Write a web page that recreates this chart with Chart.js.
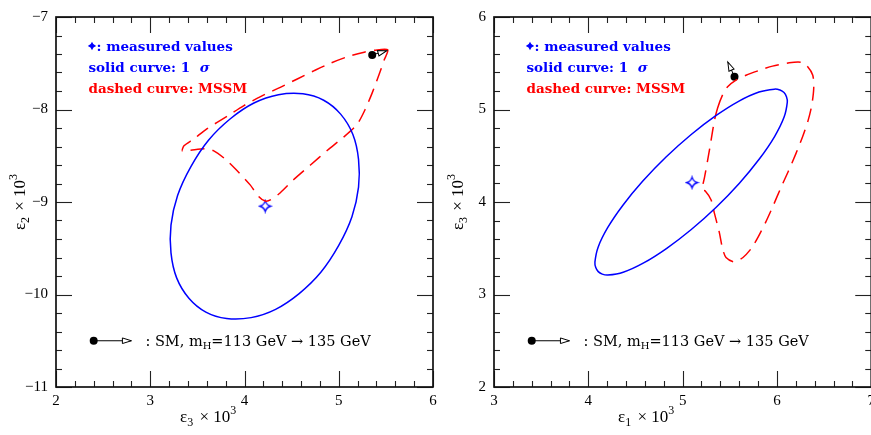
<!DOCTYPE html>
<html><head><meta charset="utf-8">
<script src="https://cdn.jsdelivr.net/npm/chart.js@4.4.1/dist/chart.umd.min.js"></script>
<style>
html,body{margin:0;padding:0;background:#fff;overflow:hidden;width:871px;height:435px;}
canvas{position:absolute;top:0;}
#c1{left:0;} #c2{left:435px;}
</style></head><body>
<canvas id="c1" width="445" height="435"></canvas>
<canvas id="c2" width="445" height="435"></canvas>
<script>
// ================= DATA =================
const leftXTicks = [2, 3, 4, 5, 6];
const leftYTicks = [-11, -10, -9, -8, -7];
const rightXTicks = [3, 4, 5, 6, 7];
const rightYTicks = [2, 3, 4, 5, 6];

// left panel: eps3 (x) vs eps2 (y), x10^3
const leftSigmaX = [4.84, 4.62, 4.36, 4.10, 3.85, 3.62, 3.43, 3.29, 3.22, 3.22, 3.28, 3.41, 3.59, 3.81, 4.07, 4.33, 4.58, 4.81, 5.00, 5.14, 5.21, 5.21, 5.15, 5.02];
const leftSigmaY = [-7.90, -7.83, -7.84, -7.93, -8.10, -8.33, -8.62, -8.93, -9.25, -9.55, -9.82, -10.04, -10.19, -10.26, -10.25, -10.16, -9.99, -9.76, -9.47, -9.16, -8.84, -8.54, -8.27, -8.05];
const leftMssmX = [5.52, 5.38, 5.27, 5.12, 4.91, 4.74, 4.56, 4.38, 4.17, 3.99, 3.82, 3.60, 3.46, 3.36, 3.34, 3.43, 3.585, 3.67, 3.80, 3.92, 4.06, 4.15, 4.22, 4.28, 4.38, 4.52, 4.70, 4.88, 5.05, 5.195, 5.28, 5.355, 5.425, 5.48];
const leftMssmY = [-7.355, -7.36, -7.38, -7.42, -7.50, -7.58, -7.67, -7.76, -7.86, -7.96, -8.07, -8.21, -8.32, -8.39, -8.45, -8.44, -8.425, -8.445, -8.54, -8.66, -8.815, -8.94, -8.99, -8.975, -8.90, -8.76, -8.60, -8.44, -8.30, -8.16, -8.00, -7.82, -7.63, -7.47];
const leftMeasuredX = [4.22];
const leftMeasuredY = [-9.045];
const leftSmX = [5.355, 5.51];
const leftSmY = [-7.41, -7.364];
const leftKeyX = [2.4, 2.8];
const leftKeyY = [-10.5, -10.5];

// right panel: eps1 (x) vs eps3 (y), x10^3
const rightSigmaX = [6.075, 6.032, 5.973, 5.810, 5.598, 5.352, 5.088, 4.824, 4.578, 4.367, 4.205, 4.104, 4.070, 4.079, 4.105, 4.148, 4.207, 4.370, 4.582, 4.828, 5.092, 5.356, 5.602, 5.813, 5.975, 6.076, 6.110, 6.101];
const rightSigmaY = [5.183, 5.210, 5.220, 5.189, 5.091, 4.933, 4.727, 4.486, 4.226, 3.965, 3.722, 3.512, 3.350, 3.291, 3.247, 3.220, 3.210, 3.241, 3.339, 3.497, 3.703, 3.944, 4.204, 4.465, 4.708, 4.918, 5.080, 5.139];
const rightMssmX = [5.371, 5.424, 5.477, 5.566, 5.672, 5.813, 5.953, 6.130, 6.254, 6.32, 6.38, 6.39, 6.37, 6.33, 6.27, 6.20, 6.12, 6.04, 5.96, 5.88, 5.80, 5.73, 5.64, 5.55, 5.46, 5.424, 5.389, 5.336, 5.301, 5.24, 5.206, 5.23, 5.265, 5.301, 5.336];
const rightMssmY = [5.016, 5.158, 5.246, 5.317, 5.370, 5.423, 5.469, 5.505, 5.511, 5.47, 5.37, 5.23, 5.05, 4.88, 4.70, 4.52, 4.33, 4.15, 3.96, 3.78, 3.62, 3.50, 3.40, 3.352, 3.40, 3.493, 3.671, 3.883, 4.024, 4.12, 4.131, 4.255, 4.449, 4.662, 4.874];
const rightMeasuredX = [5.10];
const rightMeasuredY = [4.21];
const rightSmX = [5.55, 5.479];
const rightSmY = [5.354, 5.514];
const rightKeyX = [3.4, 3.8];
const rightKeyY = [2.5, 2.5];

// ================= STYLE / HELPERS =================
const BLUE = '#0000ff', RED = '#ff0000';
const zip = (xs, ys) => xs.map((x, i) => ({x: x, y: ys[i]}));

function starPath(g, cx, cy, r) {
  const k = r * 0.22;
  g.beginPath();
  g.moveTo(cx, cy - r);
  g.quadraticCurveTo(cx + k, cy - k, cx + r, cy);
  g.quadraticCurveTo(cx + k, cy + k, cx, cy + r);
  g.quadraticCurveTo(cx - k, cy + k, cx - r, cy);
  g.quadraticCurveTo(cx - k, cy - k, cx, cy - r);
  g.closePath();
}
function starImage() {
  const c = document.createElement('canvas');
  c.width = 15; c.height = 15;
  const g = c.getContext('2d');
  starPath(g, 7.5, 7.5, 5.4);
  g.fillStyle = '#fff'; g.fill();
  g.strokeStyle = BLUE; g.lineWidth = 1.3; g.stroke();
  return c;
}
const STAR = starImage();

function datasetsFor(sx, sy, mx, my, px, py, smx, smy, kx, ky) {
  return [
    {data: zip(sx, sy), borderColor: BLUE, borderWidth: 1.5, pointRadius: 0, tension: 0.4, loop: true, fill: false},
    {data: zip(mx, my), borderColor: RED, borderWidth: 1.5, borderDash: [14, 8], pointRadius: 0, tension: 0.25, loop: true, fill: false},
    {data: zip(px, py), showLine: false, pointStyle: STAR, pointRadius: 7},
    {data: zip(smx, smy), borderColor: '#000', borderWidth: 1, pointRadius: [4, 0], pointBackgroundColor: '#000', pointBorderWidth: 0, tension: 0, arrowHead: true},
    {data: zip(kx, ky), borderColor: '#000', borderWidth: 1, pointRadius: [4, 0], pointBackgroundColor: '#000', pointBorderWidth: 0, tension: 0, arrowHead: true}
  ];
}

const loopPlugin = {
  id: 'loopPlugin',
  afterDatasetsUpdate(chart) {
    chart.data.datasets.forEach((ds, i) => {
      if (!ds.loop) return;
      const line = chart.getDatasetMeta(i).dataset;
      if (!line) return;
      line._loop = true; line._fullLoop = true; line._pointsUpdated = false;
      delete line._segments; delete line._path;
    });
  }
};

function rich(ctx, parts, x, y, color) {
  let cx = x;
  ctx.fillStyle = color;
  for (const p of parts) {
    ctx.font = p.f;
    ctx.fillText(p.t, cx, y + (p.dy || 0));
    cx += ctx.measureText(p.t).width + (p.gap || 0);
  }
  return cx - x;
}
function richWidth(ctx, parts) {
  let w = 0;
  for (const p of parts) { ctx.font = p.f; w += ctx.measureText(p.t).width + (p.gap || 0); }
  return w;
}

const decorPlugin = {
  id: 'decor',
  afterDatasetsDraw(chart) {
    const o = chart.options.plugins.decor;
    const ctx = chart.ctx, a = chart.chartArea, xs = chart.scales.x, ys = chart.scales.y;
    ctx.save();
    // inner tick marks on all four sides
    ctx.strokeStyle = '#222'; ctx.lineWidth = 1.1;
    const seg = (x1, y1, x2, y2) => { ctx.beginPath(); ctx.moveTo(x1, y1); ctx.lineTo(x2, y2); ctx.stroke(); };
    for (let i = 0; i <= 20; i++) {
      const len = (i % 5 === 0) ? 16 : 6;
      const px = Math.round(xs.getPixelForValue(xs.min + (xs.max - xs.min) * i / 20)) + 0.5;
      seg(px, a.bottom, px, a.bottom - len); seg(px, a.top, px, a.top + len);
      const py = Math.round(ys.getPixelForValue(ys.min + (ys.max - ys.min) * i / 20)) + 0.5;
      seg(a.left, py, a.left + len, py); seg(a.right, py, a.right - len, py);
    }
    // frame
    ctx.strokeStyle = '#111'; ctx.lineWidth = 1.7;
    ctx.strokeRect(a.left, a.top, a.right - a.left, a.bottom - a.top);

    // arrow heads (open triangles)
    chart.data.datasets.forEach((ds, i) => {
      if (!ds.arrowHead) return;
      const pts = chart.getDatasetMeta(i).data;
      const p0 = pts[0], p1 = pts[pts.length - 1];
      const ang = Math.atan2(p1.y - p0.y, p1.x - p0.x);
      ctx.save(); ctx.translate(p1.x, p1.y); ctx.rotate(ang);
      ctx.beginPath(); ctx.moveTo(0, 0); ctx.lineTo(-9, -2.8); ctx.lineTo(-9, 2.8); ctx.closePath();
      ctx.fillStyle = '#fff'; ctx.fill(); ctx.strokeStyle = '#000'; ctx.lineWidth = 1; ctx.stroke();
      ctx.restore();
    });

    // legend text (top-left)
    const LF = 'bold 13.5px "DejaVu Serif"';
    const lx = a.left + 32.5;
    ctx.textBaseline = 'alphabetic'; ctx.textAlign = 'left';
    starPath(ctx, lx + 3.5, a.top + 29, 4.2); ctx.fillStyle = BLUE; ctx.fill();
    rich(ctx, [{t: ': measured values', f: LF}], lx + 8, a.top + 34, BLUE);
    rich(ctx, [{t: 'solid curve: 1 ', f: LF, gap: 5}, {t: 'σ', f: 'bold italic 13.5px "DejaVu Serif"'}], lx, a.top + 55, BLUE);
    rich(ctx, [{t: 'dashed curve: MSSM', f: LF}], lx, a.top + 76, RED);

    // SM key text
    const key = chart.getDatasetMeta(4).data;
    const NF = '14.5px "DejaVu Serif"', NS = '10px "DejaVu Serif"';
    rich(ctx, [{t: ': SM, m', f: NF}, {t: 'H', f: NS, dy: 3}, {t: '=113 GeV → 135 GeV', f: NF}],
      key[1].x + 14, key[1].y + 5, '#000');

    // axis titles
    const TF = '17px "Liberation Serif"', TS = '12px "Liberation Serif"';
    const xParts = [{t: 'ε', f: TF}, {t: o.xSub, f: TS, dy: 4, gap: 2}, {t: ' × 10', f: TF}, {t: '3', f: TS, dy: -8}];
    rich(ctx, xParts, a.left + 124, a.bottom + 35, '#000');
    const yParts = [{t: 'ε', f: TF}, {t: o.ySub, f: TS, dy: 4, gap: 2}, {t: ' × 10', f: TF}, {t: '3', f: TS, dy: -8}];
    const w = richWidth(ctx, yParts);
    ctx.save();
    ctx.translate(a.left - 31, (a.top + a.bottom) / 2);
    ctx.rotate(-Math.PI / 2);
    rich(ctx, yParts, -w / 2, 0, '#000');
    ctx.restore();

    ctx.restore();
  }
};

const fmt = v => String(v).replace('-', '\u2212');

function makeChart(id, cfg) {
  return new Chart(document.getElementById(id), {
    type: 'line',
    data: {datasets: cfg.datasets},
    options: {
      responsive: false, animation: false, events: [],
      layout: {padding: {left: 0, top: 11, right: cfg.padRight, bottom: 0}},
      plugins: {legend: {display: false}, tooltip: {enabled: false}, decor: cfg.decor},
      scales: {
        x: {
          type: 'linear', min: cfg.xTicks[0], max: cfg.xTicks[cfg.xTicks.length - 1],
          afterBuildTicks: s => { s.ticks = cfg.xTicks.map(v => ({value: v})); },
          afterFit: s => { s.height = 48; },
          grid: {display: false, drawTicks: false}, border: {display: false},
          ticks: {font: {family: 'Liberation Serif', size: 15}, color: '#000', padding: 5, maxRotation: 0, autoSkip: false, callback: v => fmt(v)}
        },
        y: {
          type: 'linear', min: cfg.yTicks[0], max: cfg.yTicks[cfg.yTicks.length - 1],
          afterBuildTicks: s => { s.ticks = cfg.yTicks.map(v => ({value: v})); },
          afterFit: s => { s.width = cfg.yWidth; },
          grid: {display: false, drawTicks: false}, border: {display: false},
          ticks: {font: {family: 'Liberation Serif', size: 15}, color: '#000', padding: 8, autoSkip: false, callback: v => fmt(v)}
        }
      }
    },
    plugins: [loopPlugin, decorPlugin]
  });
}

makeChart('c1', {
  datasets: datasetsFor(leftSigmaX, leftSigmaY, leftMssmX, leftMssmY, leftMeasuredX, leftMeasuredY, leftSmX, leftSmY, leftKeyX, leftKeyY),
  xTicks: leftXTicks, yTicks: leftYTicks, padRight: 12, yWidth: 56,
  decor: {xSub: '3', ySub: '2'}
});
makeChart('c2', {
  datasets: datasetsFor(rightSigmaX, rightSigmaY, rightMssmX, rightMssmY, rightMeasuredX, rightMeasuredY, rightSmX, rightSmY, rightKeyX, rightKeyY),
  xTicks: rightXTicks, yTicks: rightYTicks, padRight: 8, yWidth: 59,
  decor: {xSub: '1', ySub: '3'}
});
</script>
</body></html>
